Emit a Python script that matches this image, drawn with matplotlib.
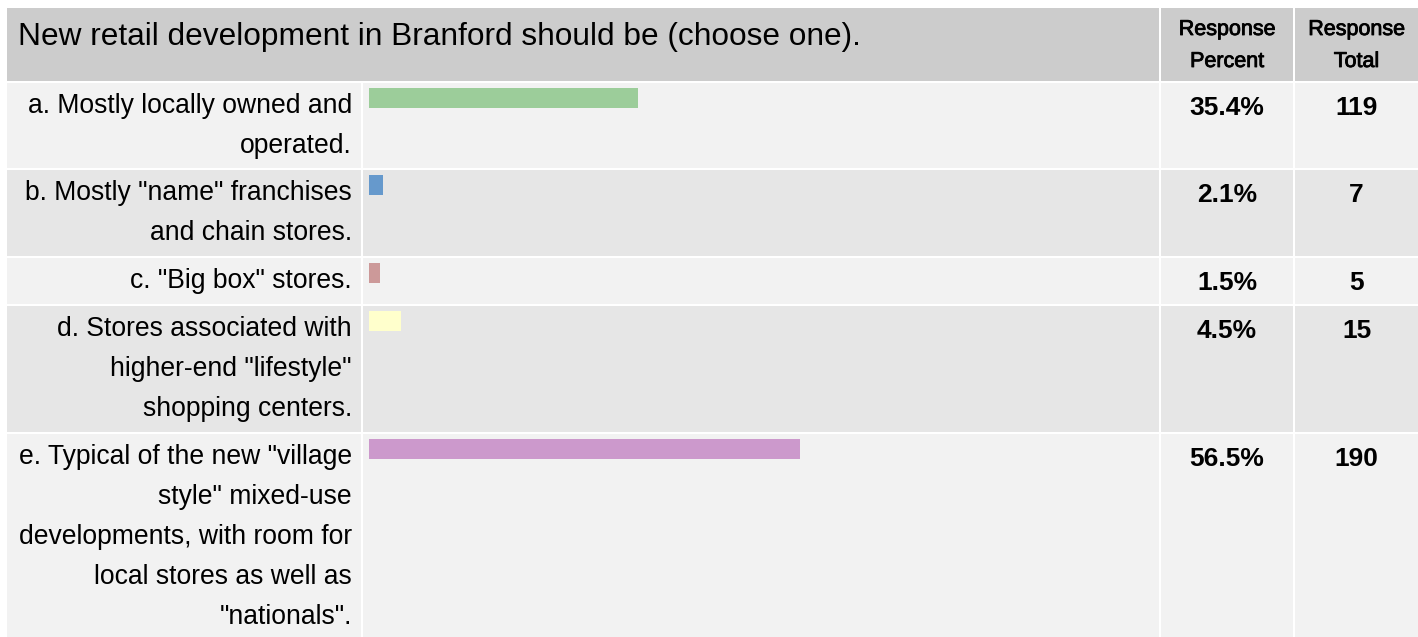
import matplotlib.pyplot as plt
import matplotlib.patheffects as pe
from matplotlib.patches import Rectangle

plt.rcParams['font.family'] = ['Liberation Sans', 'DejaVu Sans']

title = "New retail development in Branford should be (choose one)."
labels = [
    ["a. Mostly locally owned and", "operated."],
    ["b. Mostly \"name\" franchises", "and chain stores."],
    ["c. \"Big box\" stores."],
    ["d. Stores associated with", "higher-end \"lifestyle\"", "shopping centers."],
    ["e. Typical of the new \"village", "style\" mixed-use", "developments, with room for",
     "local stores as well as", "\"nationals\"."],
]
percents = [35.4, 2.1, 1.5, 4.5, 56.5]
totals = [119, 7, 5, 15, 190]
bar_colors = ["#9ccd9a", "#6699cc", "#cc9999", "#ffffcc", "#cc99cc"]
row_colors = ["#f2f2f2", "#e6e6e6", "#f2f2f2", "#e6e6e6", "#f2f2f2"]

W, H = 1418, 637
fig = plt.figure(figsize=(W / 100, H / 100), dpi=100)
ax = fig.add_axes([0, 0, 1, 1])
ax.set_xlim(0, W)
ax.set_ylim(H, 0)
ax.axis('off')

# column edges (pixels)
x0, x_lab, x_bar, x_pct, x_end = 7, 361, 1159, 1293, W
gap = 2
header_top, header_bot = 8, 81
row_tops = [83, 170, 258, 306, 434]
row_bots = [168, 256, 304, 432, H]

def px(size):
    return size * 72 / 100

# header
ax.add_patch(Rectangle((x0, header_top), x_bar - x0, header_bot - header_top, color="#cccccc", lw=0))
ax.add_patch(Rectangle((x_bar + gap, header_top), x_pct - x_bar - gap, header_bot - header_top, color="#cccccc", lw=0))
ax.add_patch(Rectangle((x_pct + gap, header_top), x_end - x_pct - gap, header_bot - header_top, color="#cccccc", lw=0))
ax.text(18, 45, title, fontsize=px(31.7), va='baseline', ha='left', color='black')
for cx, words in [((x_bar + x_pct) / 2 + 1, ["Response", "Percent"]),
                  ((x_pct + x_end) / 2 + 1, ["Response", "Total"])]:
    for i, w in enumerate(words):
        ax.text(cx, 35 + 32 * i, w, fontsize=px(21.5), ha='center', va='baseline', color='black',
                path_effects=[pe.withStroke(linewidth=0.6, foreground='black')])

# rows
px_per_pct = 7.66
bar_left = 369
for i in range(len(percents)):
    top, bot = row_tops[i], row_bots[i]
    for a, b in [(x0, x_lab), (x_lab + gap, x_bar), (x_bar + gap, x_pct), (x_pct + gap, x_end)]:
        ax.add_patch(Rectangle((a, top), b - a, bot - top, color=row_colors[i], lw=0))
    for j, line in enumerate(labels[i]):
        ax.text(352, top + 30 + 40 * j, line, fontsize=px(26.5), ha='right', va='baseline', color='black')
    ax.text((x_bar + x_pct) / 2 + 1, top + 32, f"{percents[i]:.1f}%", fontsize=px(26.4),
            fontweight='bold', ha='center', va='baseline', color='black')
    ax.text((x_pct + x_end) / 2 + 1, top + 32, str(totals[i]), fontsize=px(26.4),
            fontweight='bold', ha='center', va='baseline', color='black')

bar_y = [t + 15 for t in row_tops]
ax.barh(bar_y, [max(p * px_per_pct - 2, 11) for p in percents], height=20, left=bar_left,
        color=bar_colors, edgecolor='none')

fig.savefig("out.png", dpi=100)
